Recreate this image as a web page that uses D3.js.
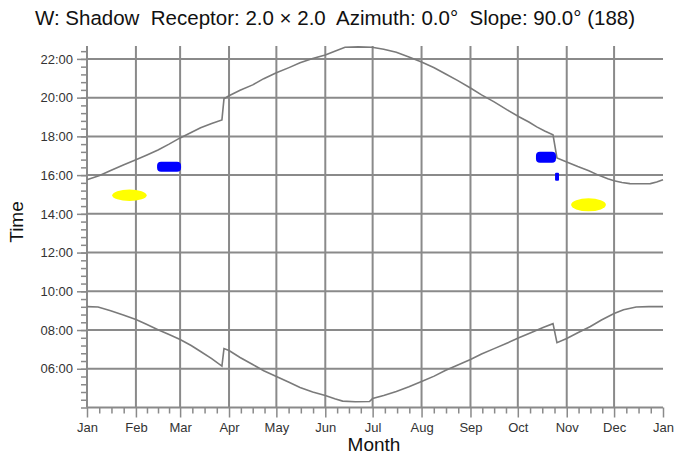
<!DOCTYPE html>
<html>
<head>
<meta charset="utf-8">
<script src="https://cdn.jsdelivr.net/npm/d3@7"></script>
<style>
  html, body { margin: 0; padding: 0; background: #fff; }
  svg { display: block; }
  text { font-family: "Liberation Sans", Arial, sans-serif; }
</style>
</head>
<body>
<svg id="chart" width="676" height="456"></svg>
<script>
// ---- data ----
const monthLabels = ["Jan","Feb","Mar","Apr","May","Jun","Jul","Aug","Sep","Oct","Nov","Dec","Jan"];
const monthStartDays = [0,31,59,90,120,151,181,212,243,273,304,334,365];
const hourTicks = [6,8,10,12,14,16,18,20,22];
const hourLabels = ["06:00","08:00","10:00","12:00","14:00","16:00","18:00","20:00","22:00"];

// upper curve (sunset, local time incl. DST)
const sunsetDays  = [0, 8, 15, 23, 31, 38, 45, 52, 59, 66, 72, 79, 85.5, 86.8, 90, 97, 105, 112, 120, 128, 135, 143, 151, 157, 163.5, 172, 180.6, 188, 196, 204, 212, 220, 227, 235, 243, 250, 258, 266, 274, 280, 285, 290, 295.3, 297.8, 304, 311, 318, 324, 330, 334, 339, 344, 350, 357, 361, 365];
const sunsetHours = [15.76, 15.98, 16.24, 16.52, 16.79, 17.04, 17.30, 17.60, 17.92, 18.20, 18.44, 18.66, 18.85, 19.94, 20.10, 20.38, 20.66, 20.98, 21.28, 21.55, 21.80, 22.02, 22.20, 22.40, 22.60, 22.62, 22.60, 22.50, 22.34, 22.10, 21.84, 21.54, 21.23, 20.88, 20.50, 20.14, 19.78, 19.38, 19.00, 18.74, 18.49, 18.28, 18.08, 16.89, 16.68, 16.44, 16.22, 16.00, 15.81, 15.71, 15.62, 15.56, 15.55, 15.56, 15.64, 15.76];

// lower curve (sunrise)
const sunriseDays  = [0, 7, 15, 23, 31, 38, 45, 52, 59, 66, 72, 79, 85.5, 86.8, 90, 97, 105, 112, 120, 128, 135, 143, 151, 157, 162, 170, 179, 181, 188, 196, 204, 212, 220, 227, 235, 243, 250, 258, 266, 274, 282, 289, 295.3, 297.8, 304, 311, 319, 326, 334, 340, 348, 356, 365];
const sunriseHours = [9.21, 9.19, 9.00, 8.78, 8.54, 8.29, 8.02, 7.77, 7.51, 7.20, 6.89, 6.52, 6.14, 7.04, 6.94, 6.58, 6.22, 5.90, 5.60, 5.30, 5.03, 4.80, 4.62, 4.45, 4.33, 4.30, 4.31, 4.46, 4.62, 4.83, 5.07, 5.34, 5.62, 5.91, 6.20, 6.48, 6.76, 7.04, 7.32, 7.61, 7.88, 8.13, 8.33, 7.35, 7.56, 7.86, 8.18, 8.52, 8.85, 9.05, 9.19, 9.21, 9.21];

// shadow periods: [startDay, endDay, fromHour, toHour]
const yellowPeriods = [[16.0, 37.8, 14.66, 15.26], [306.8, 328.8, 14.13, 14.80]];
const bluePeriods   = [[44.4, 59.6, 16.17, 16.69], [284.5, 297.2, 16.64, 17.20], [296.6, 299.1, 15.71, 16.12]];

// ---- layout ----
const svg = d3.select("#chart");
const L = 87, R = 663, T = 46, B = 407.5;
const x = d3.scaleLinear().domain([0, 365]).range([L, R]);
const y = d3.scaleLinear().domain([4, 22 + 2/3]).range([B, T]);
const gridColor = "#8a8a8a";
const font = "Liberation Sans, Arial, sans-serif";

// grid
const g = svg.append("g");
g.selectAll("line.hg").data(hourTicks).join("line")
  .attr("x1", L).attr("x2", R).attr("y1", d => y(d)).attr("y2", d => y(d))
  .attr("stroke", gridColor).attr("stroke-width", 2);
g.selectAll("line.vg").data(monthStartDays.slice(1, 12)).join("line")
  .attr("x1", d => x(d)).attr("x2", d => x(d)).attr("y1", T).attr("y2", B)
  .attr("stroke", gridColor).attr("stroke-width", 2);

// y axis
const yMinorVals = d3.range(0, 47).map(i => 4 + i * 0.4).filter(h => h <= 22.67 + 1e-6);
const yMinor = d3.axisLeft(y).tickValues(yMinorVals).tickSize(6).tickFormat("");
svg.append("g").attr("transform", `translate(${L},0)`).call(yMinor)
  .call(s => s.select(".domain").remove())
  .selectAll("line").attr("stroke", gridColor).attr("stroke-width", 1.5);
const yMajor = d3.axisLeft(y).tickValues(hourTicks).tickSize(10).tickPadding(4)
  .tickFormat((d, i) => hourLabels[i]);
const ya = svg.append("g").attr("transform", `translate(${L},0)`).call(yMajor);
ya.select(".domain").remove();
ya.selectAll("line").attr("stroke", gridColor).attr("stroke-width", 1.5);
ya.selectAll("text").attr("font-size", 13).attr("fill", "#333").attr("font-family", font);

// x axis
const xMinorVals = [];
for (let m = 0; m < 12; m++) {
  const a = monthStartDays[m], b = monthStartDays[m + 1];
  for (let k = 1; k < 4; k++) xMinorVals.push(a + (b - a) * k / 4);
}
const xMinor = d3.axisBottom(x).tickValues(xMinorVals).tickSize(6).tickFormat("");
svg.append("g").attr("transform", `translate(0,${B})`).call(xMinor)
  .call(s => s.select(".domain").remove())
  .selectAll("line").attr("stroke", gridColor).attr("stroke-width", 1.5);
const xMajor = d3.axisBottom(x).tickValues(monthStartDays).tickSize(10).tickPadding(5)
  .tickFormat((d, i) => monthLabels[i]);
const xa = svg.append("g").attr("transform", `translate(0,${B})`).call(xMajor);
xa.select(".domain").remove();
xa.selectAll("line").attr("stroke", gridColor).attr("stroke-width", 1.5);
xa.selectAll("text").attr("font-size", 13).attr("fill", "#333").attr("font-family", font);

// axis lines
svg.append("line").attr("x1", L).attr("x2", L).attr("y1", T).attr("y2", B)
  .attr("stroke", gridColor).attr("stroke-width", 2);
svg.append("line").attr("x1", L).attr("x2", R).attr("y1", B).attr("y2", B)
  .attr("stroke", gridColor).attr("stroke-width", 2);

// curves
const line = d3.line().x(d => x(d[0])).y(d => y(d[1]));
svg.append("path").datum(sunsetDays.map((d, i) => [d, sunsetHours[i]]))
  .attr("d", line).attr("fill", "none").attr("stroke", "#7a7a7a").attr("stroke-width", 1.6);
svg.append("path").datum(sunriseDays.map((d, i) => [d, sunriseHours[i]]))
  .attr("d", line).attr("fill", "none").attr("stroke", "#7a7a7a").attr("stroke-width", 1.6);

// shadow periods
svg.selectAll("ellipse.yel").data(yellowPeriods).join("ellipse")
  .attr("cx", d => (x(d[0]) + x(d[1])) / 2)
  .attr("cy", d => (y(d[2]) + y(d[3])) / 2)
  .attr("rx", d => (x(d[1]) - x(d[0])) / 2)
  .attr("ry", d => (y(d[2]) - y(d[3])) / 2)
  .attr("fill", "#ffff00");
svg.selectAll("rect.blu").data(bluePeriods).join("rect")
  .attr("x", d => x(d[0])).attr("width", d => x(d[1]) - x(d[0]))
  .attr("y", d => y(d[3])).attr("height", d => y(d[2]) - y(d[3]))
  .attr("rx", d => Math.min(4, (x(d[1]) - x(d[0])) / 4))
  .attr("fill", "#0000ff");

// titles
svg.append("text").attr("x", 335).attr("y", 25).attr("text-anchor", "middle")
  .attr("font-size", 20.5).attr("fill", "#111")
  .style("white-space", "pre")
  .text("W: Shadow  Receptor: 2.0 × 2.0  Azimuth: 0.0°  Slope: 90.0° (188)");
svg.append("text").attr("x", 374).attr("y", 451).attr("text-anchor", "middle")
  .attr("font-size", 19).attr("fill", "#111").text("Month");
svg.append("text").attr("transform", "translate(23,222) rotate(-90)").attr("text-anchor", "middle")
  .attr("font-size", 19).attr("fill", "#111").text("Time");
</script>
</body>
</html>
